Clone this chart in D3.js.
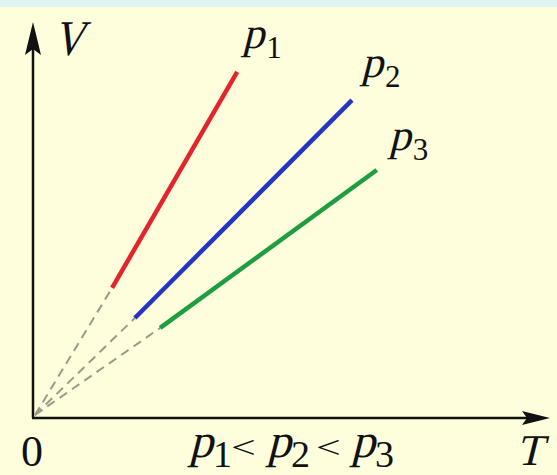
<!DOCTYPE html>
<html>
<head>
<meta charset="utf-8">
<script src="https://cdn.jsdelivr.net/npm/d3@7"></script>
<style>
  html, body { margin: 0; padding: 0; background: #FEFEDD; }
  svg { display: block; }
</style>
</head>
<body>
<svg id="chart" width="557" height="475"></svg>
<script>
// Isobars in the V–T plane: three pressures, each a straight line through the origin
const series = ["p1", "p2", "p3"];
const subscripts = ["1", "2", "3"];
const colors = ["#E3242B", "#2434C4", "#1E9E40"];
// solid segment of each isobar (temperature, volume)
const tStart = [1.53, 1.97, 2.46];
const tEnd   = [3.95, 6.17, 6.65];
const vStart = [2.63, 2.02, 1.82];
const vEnd   = [6.99, 6.42, 5.01];
const axisLabels = { x: "T", y: "V", origin: "0" };

const svg = d3.select("#chart");
const W = 557, H = 475;
const SERIF = "Liberation Serif";
const SLANT = -14;

svg.append("rect").attr("width", W).attr("height", H).attr("fill", "#FEFEDD");
svg.append("rect").attr("width", W).attr("height", 7).attr("fill", "#DDF4F1");

const x = d3.scaleLinear().domain([0, 10]).range([33, 550]);
const y = d3.scaleLinear().domain([0, 8]).range([418, 22]);

// axes with arrowheads
const g = svg.append("g");
g.append("line")
  .attr("x1", x(0)).attr("y1", y(0)).attr("x2", x(0)).attr("y2", y(8) + 20)
  .attr("stroke", "#111").attr("stroke-width", 2.5);
g.append("line")
  .attr("x1", x(0) - 1).attr("y1", y(0)).attr("x2", x(10) - 20).attr("y2", y(0))
  .attr("stroke", "#111").attr("stroke-width", 2.5);

const ax = x(0), ay = y(8);
g.append("path")
  .attr("d", `M${ax},${ay} L${ax + 8},${ay + 33} L${ax},${ay + 27} L${ax - 8},${ay + 33} Z`)
  .attr("fill", "#111");
const bx = x(10), by = y(0);
g.append("path")
  .attr("d", `M${bx},${by} L${bx - 28},${by - 7} L${bx - 23},${by} L${bx - 28},${by + 7} Z`)
  .attr("fill", "#111");

// dashed extrapolation back to absolute zero
series.forEach((s, i) => {
  svg.append("line")
    .attr("x1", x(0) + 2).attr("y1", y(0) - 3)
    .attr("x2", x(tStart[i])).attr("y2", y(vStart[i]))
    .attr("stroke", "#9a9a88").attr("stroke-width", 2)
    .attr("stroke-dasharray", "9,6");
});

// measured isobars
series.forEach((s, i) => {
  svg.append("line")
    .attr("x1", x(tStart[i])).attr("y1", y(vStart[i]))
    .attr("x2", x(tEnd[i])).attr("y2", y(vEnd[i]))
    .attr("stroke", colors[i]).attr("stroke-width", 4.5);
});

// slanted serif letter (math-italic look)
function slanted(parent, str, px, py, size, sx = 1, sy = 1) {
  return parent.append("text")
    .attr("transform", `translate(${px},${py}) skewX(${SLANT}) scale(${sx},${sy})`)
    .style("font-family", SERIF).style("font-size", size + "px").style("fill", "#111")
    .text(str);
}

// italic p with an upright numeric subscript
function pLabel(parent, px, py, size, subSize, subDx, subDy, k) {
  slanted(parent, "p", px, py, size);
  parent.append("text").attr("x", px + subDx).attr("y", py + subDy)
    .style("font-family", SERIF).style("font-size", subSize + "px").style("fill", "#111")
    .text(subscripts[k]);
}

// pressure labels near line ends
const labelOffsets = [[5, -24], [9, -23], [12, -20]];
series.forEach((s, i) => {
  pLabel(svg, x(tEnd[i]) + labelOffsets[i][0], y(vEnd[i]) + labelOffsets[i][1],
         44, 31, 24, 10, i);
});

// axis labels
slanted(svg, axisLabels.y, 53, 55, 50, 0.85, 1);
slanted(svg, axisLabels.x, 516, 465, 44, 1, 1);
svg.append("text").attr("x", 21).attr("y", 466)
  .style("font-family", SERIF).style("font-size", "44px")
  .style("fill", "#111").text(axisLabels.origin);

// ordering of the pressures: p1 < p2 < p3
const relX = [189, 267, 351];
const ltX = [231, 316];
series.forEach((s, i) => {
  pLabel(svg, relX[i], 457, 48, 38, 24, 10, i);
  if (i < series.length - 1) {
    svg.append("text")
      .attr("transform", `translate(${ltX[i]},458) scale(1,0.72)`)
      .style("font-family", SERIF).style("font-size", "44px")
      .style("fill", "#111").text("<");
  }
});
</script>
</body>
</html>
